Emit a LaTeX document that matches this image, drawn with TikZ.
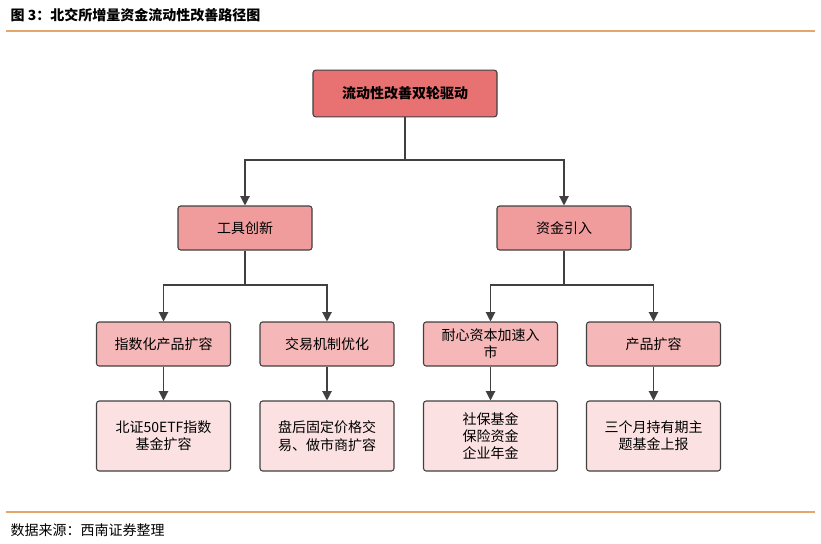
\documentclass[tikz,border=0pt]{standalone}
\usepackage{fontspec}
\setmainfont{Noto Sans CJK SC}
\usetikzlibrary{positioning,arrows.meta}
\definecolor{topred}{HTML}{E87171}
\definecolor{midred}{HTML}{F09C9C}
\definecolor{lowred}{HTML}{F5B7B7}
\definecolor{paleRed}{HTML}{FBE1E1}
\definecolor{rule}{HTML}{E3A869}
\tikzset{
  box/.style={draw=black!75,line width=0.8pt,rounded corners=2pt,minimum width=100.5pt,minimum height=33pt,align=center,font=\fontsize{10.5}{13}\selectfont,text width=90pt},
  arr/.style={-{Triangle[length=7pt,width=7pt]},line width=0.9pt,black!75}
}
\begin{document}
\begin{tikzpicture}[x=0.75pt,y=-0.75pt]
\useasboundingbox (0,0) rectangle (821,543);
% title and rules
\node[anchor=west,font=\fontsize{10.5}{12}\selectfont\bfseries] (title) at (6,15) {图 3：北交所增量资金流动性改善路径图};
\draw[rule,line width=1pt] (6,31) -- (815,31);
\draw[rule,line width=1pt] (6,512) -- (815,512);
\node[anchor=west,font=\fontsize{10.5}{12}\selectfont\itshape] (src) at (6,530) {数据来源：西南证券整理};
% boxes
\node[box,fill=topred,minimum width=138pt,text width=130pt,minimum height=35pt,font=\fontsize{10.5}{13}\selectfont\bfseries] (top) at (405,93.5) {流动性改善双轮驱动};
\node[box,fill=midred] (tool) at (245,228) {工具创新};
\node[box,fill=midred] (fund) at (564,228) {资金引入};
\node[box,fill=lowred] (idx) at (163.5,344) {指数化产品扩容};
\node[box,fill=lowred] (trade) at (327,344) {交易机制优化};
\node[box,fill=lowred] (pat) at (490.5,344) {耐心资本加速入\\市};
\node[box,fill=lowred] (prod) at (653.5,344) {产品扩容};
\node[box,fill=paleRed,minimum height=52.5pt] (idxd) at (163.5,436) {北证50ETF指数\\基金扩容};
\node[box,fill=paleRed,minimum height=52.5pt] (traded) at (327,436) {盘后固定价格交\\易、做市商扩容};
\node[box,fill=paleRed,minimum height=52.5pt] (patd) at (490.5,436) {社保基金\\保险资金\\企业年金};
\node[box,fill=paleRed,minimum height=52.5pt] (prodd) at (653.5,436) {三个月持有期主\\题基金上报};
% connectors
\coordinate (j0) at (405,160);
\coordinate (j1) at (245,285);
\coordinate (j2) at (564,285);
\draw[line width=0.9pt,black!75] (top.south) -- (j0);
\draw[arr] (j0) -| (tool.north);
\draw[arr] (j0) -| (fund.north);
\draw[line width=0.9pt,black!75] (tool.south) -- (j1);
\draw[arr] (j1) -| (idx.north);
\draw[arr] (j1) -| (trade.north);
\draw[line width=0.9pt,black!75] (fund.south) -- (j2);
\draw[arr] (j2) -| (pat.north);
\draw[arr] (j2) -| (prod.north);
\draw[arr] (idx) -- (idxd);
\draw[arr] (trade) -- (traded);
\draw[arr] (pat) -- (patd);
\draw[arr] (prod) -- (prodd);
\end{tikzpicture}
\end{document}
